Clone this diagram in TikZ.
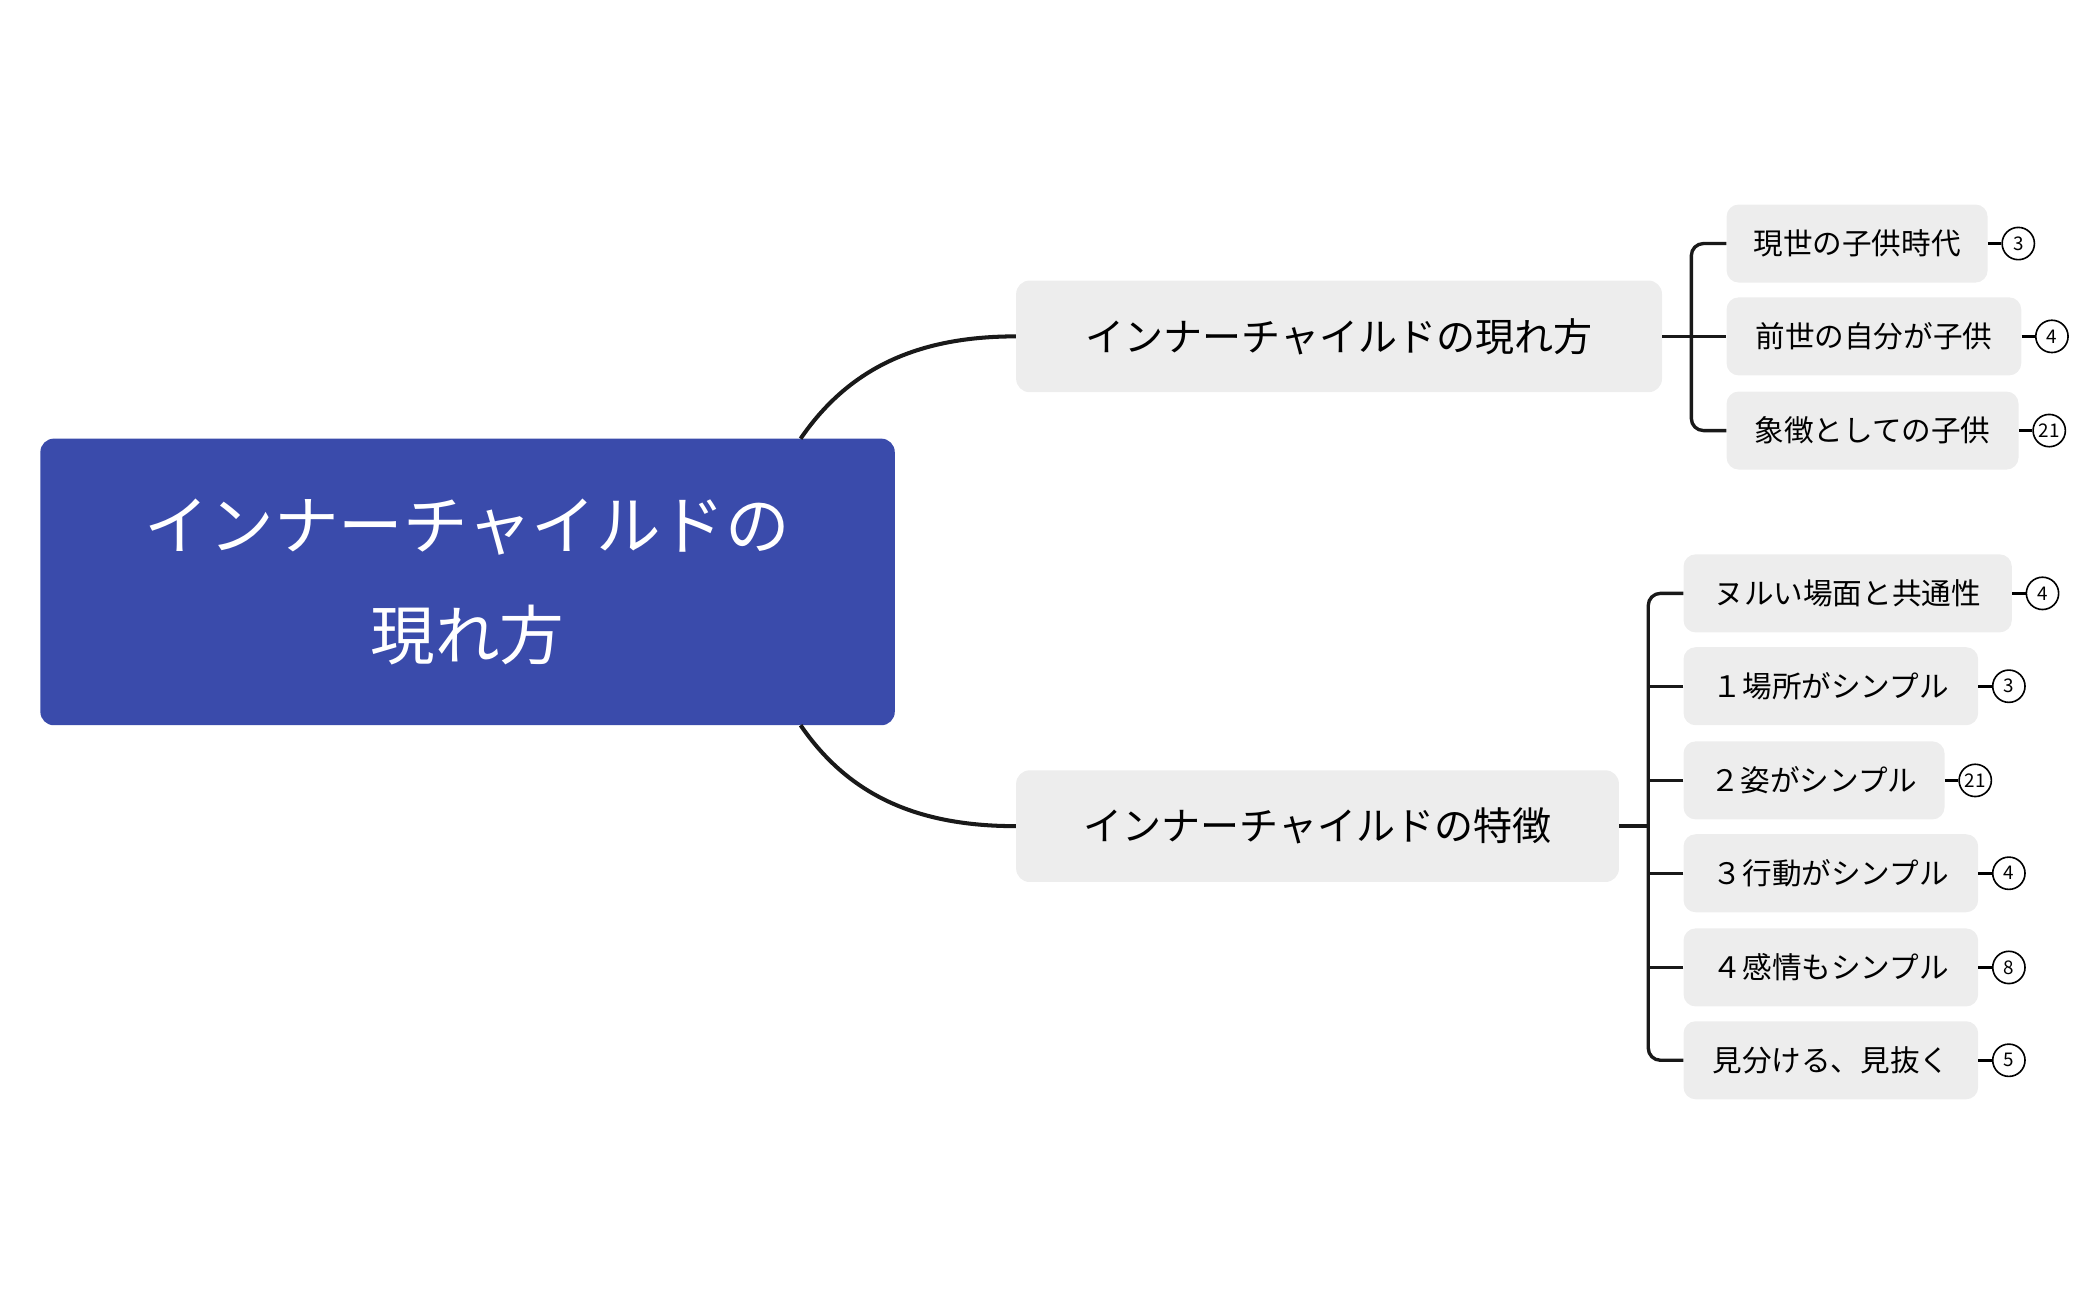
\documentclass[tikz,border=0pt]{standalone}
\usepackage{fontspec}
\setmainfont{Noto Sans CJK JP}
\begin{document}
\begin{tikzpicture}[x=1pt,y=-1pt,
 leaf/.style={fill=black!7,rounded corners=9pt,minimum height=58pt,anchor=west,inner xsep=10pt,font=\fontsize{22}{26}\selectfont},
 mid/.style={fill=black!7,rounded corners=10pt,minimum height=83pt,anchor=west,inner xsep=30pt,font=\fontsize{29}{34}\selectfont},
 badge/.style={circle,draw,line width=1.2pt,minimum size=24pt,inner sep=0pt,anchor=west,font=\fontsize{14}{14}\selectfont},
 con/.style={line width=3pt,draw=black!90},
 bcon/.style={line width=2.5pt,draw=black!90,rounded corners=9pt}]
\useasboundingbox (0,0) rectangle (1560,966);
\node[fill={rgb,255:red,58;green,75;blue,171},rounded corners=10pt,minimum width=635pt,minimum height=213pt,text=white,align=center,font=\fontsize{48}{82}\selectfont] (root) at (347.5,432.5) {インナーチャイルドの\\現れ方};
\node[mid,minimum width=480pt] (m1) at (755,250) {インナーチャイルドの現れ方};
\node[mid,minimum width=448pt] (m2) at (755,614) {インナーチャイルドの特徴};
\draw[con] (595,326) .. controls (630,275) and (680,250) .. (m1.west);
\draw[con] (595,539) .. controls (630,590) and (680,614) .. (m2.west);
% group 1
\node[leaf,minimum width=194pt] (a1) at (1283,181) {現世の子供時代};
\node[leaf,minimum width=219pt] (a2) at (1283,250) {前世の自分が子供};
\node[leaf,minimum width=217pt] (a3) at (1283,320) {象徴としての子供};
\coordinate (j1) at (1257,250);
\draw[bcon] (m1.east) -- (a2.west);
\draw[bcon] (a1.west) -| (j1) |- (a3.west);
\foreach \n/\t in {a1/3,a2/4,a3/21}{
 \node[badge] (b\n) at ([xshift=10pt]\n.east) {\t};
 \draw[line width=2.5pt] (\n.east) -- (b\n.west);}
% group 2
\node[leaf,minimum width=244pt] (c1) at (1251,441) {ヌルい場面と共通性};
\node[leaf,minimum width=219pt] (c2) at (1251,510) {１場所がシンプル};
\node[leaf,minimum width=194pt] (c3) at (1251,580) {２姿がシンプル};
\node[leaf,minimum width=219pt] (c4) at (1251,649) {３行動がシンプル};
\node[leaf,minimum width=219pt] (c5) at (1251,719) {４感情もシンプル};
\node[leaf,minimum width=219pt] (c6) at (1251,788) {見分ける、見抜く};
\coordinate (j2) at (1225,614);
\draw[bcon] (m2.east) -- (j2);
\draw[bcon] (c1.west) -| (j2) |- (c6.west);
\foreach \n in {c2,c3,c4,c5}{\draw[bcon] (\n.west) -- (\n.west -| j2);}
\foreach \n/\t in {c1/4,c2/3,c3/21,c4/4,c5/8,c6/5}{
 \node[badge] (b\n) at ([xshift=10pt]\n.east) {\t};
 \draw[line width=2.5pt] (\n.east) -- (b\n.west);}
\end{tikzpicture}
\end{document}
